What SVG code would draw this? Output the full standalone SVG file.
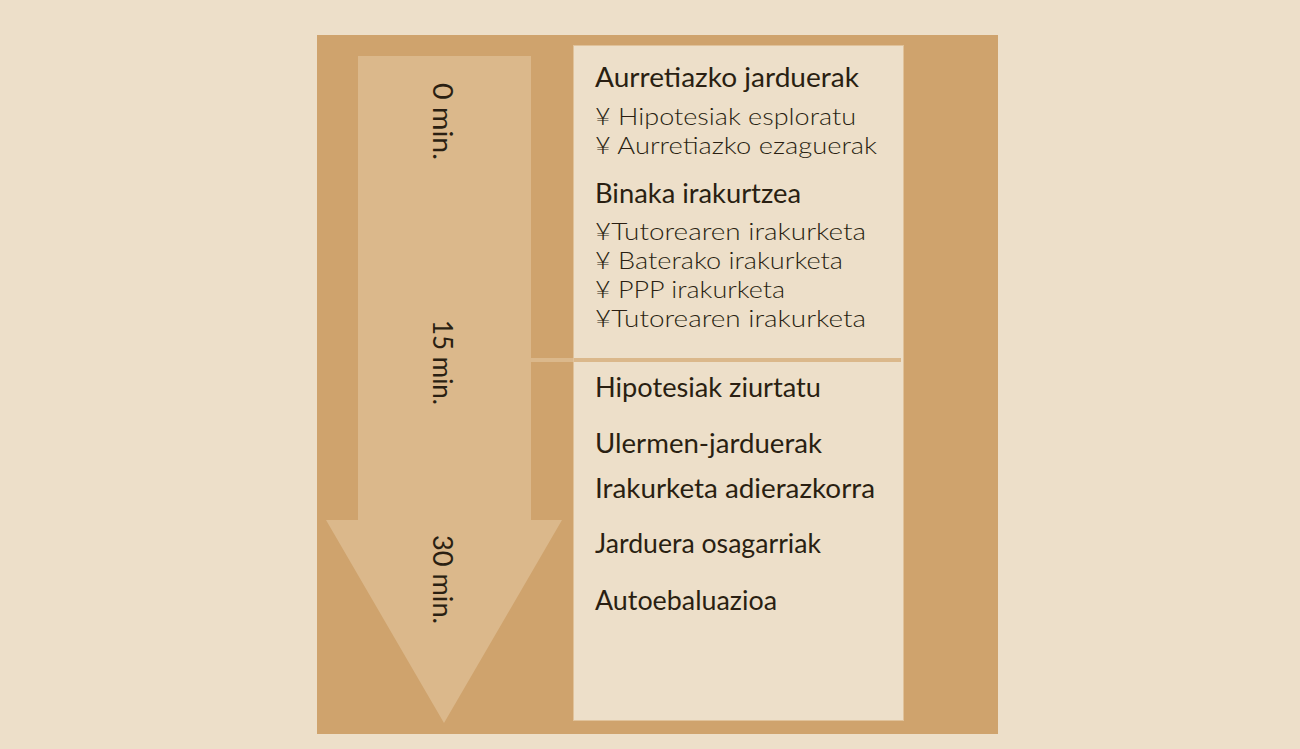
<svg xmlns="http://www.w3.org/2000/svg" width="1300" height="749" viewBox="0 0 1300 749">
<style>
  .t { font-family: Lato, "Open Sans", "Liberation Sans", sans-serif; font-size: 26px; fill: #2a1f12; }
  .h { font-weight: 400; }
  .b { font-weight: 300; font-size: 24px; }
  .v { font-family: Lato, "Open Sans", "Liberation Sans", sans-serif; font-size: 26px; fill: #2a1f12; font-weight: 400; }
</style>
<rect x="0" y="0" width="1300" height="749" fill="#eddfc9"/>
<rect id="frame" x="317" y="35" width="681" height="699" fill="#cfa36d"/>
<g id="arrow">
  <polygon points="358,56 531,56 531,520 562,520 444,723 326,520 358,520" fill="#dbb88b"/>
</g>
<g id="connectors">
  <rect x="530" y="358" width="371" height="4" fill="#dbb88b"/>
</g>
<g id="panel">
  <rect x="573.5" y="45.5" width="330" height="675" fill="#eddfc9" stroke="#e0c29a" stroke-width="1"/>
  <rect x="574" y="358" width="327" height="4" fill="#dbb88b"/>
</g>
<g id="time-labels">
  <text class="v" transform="translate(433,83) rotate(90)" textLength="77" lengthAdjust="spacingAndGlyphs">0 min.</text>
  <text class="v" transform="translate(433,320) rotate(90)" textLength="85" lengthAdjust="spacingAndGlyphs">15 min.</text>
  <text class="v" transform="translate(433,535) rotate(90)" textLength="89" lengthAdjust="spacingAndGlyphs">30 min.</text>
</g>
<g id="section-1">
  <text class="t h" x="595" y="87" textLength="264" lengthAdjust="spacingAndGlyphs">Aurretiazko jarduerak</text>
  <text class="t b" x="595" y="125" textLength="261" lengthAdjust="spacingAndGlyphs">¥ Hipotesiak esploratu</text>
  <text class="t b" x="595" y="154" textLength="282" lengthAdjust="spacingAndGlyphs">¥ Aurretiazko ezaguerak</text>
</g>
<g id="section-2">
  <text class="t h" x="595" y="203" textLength="206" lengthAdjust="spacingAndGlyphs">Binaka irakurtzea</text>
  <text class="t b" x="595" y="240" textLength="271" lengthAdjust="spacingAndGlyphs">¥Tutorearen irakurketa</text>
  <text class="t b" x="595" y="269" textLength="248" lengthAdjust="spacingAndGlyphs">¥ Baterako irakurketa</text>
  <text class="t b" x="595" y="298" textLength="190" lengthAdjust="spacingAndGlyphs">¥ PPP irakurketa</text>
  <text class="t b" x="595" y="327" textLength="271" lengthAdjust="spacingAndGlyphs">¥Tutorearen irakurketa</text>
</g>
<g id="section-3">
  <text class="t h" x="595" y="397" textLength="226" lengthAdjust="spacingAndGlyphs">Hipotesiak ziurtatu</text>
  <text class="t h" x="595" y="453" textLength="227" lengthAdjust="spacingAndGlyphs">Ulermen-jarduerak</text>
  <text class="t h" x="595" y="498" textLength="280" lengthAdjust="spacingAndGlyphs">Irakurketa adierazkorra</text>
  <text class="t h" x="595" y="553" textLength="226" lengthAdjust="spacingAndGlyphs">Jarduera osagarriak</text>
  <text class="t h" x="595" y="610" textLength="182" lengthAdjust="spacingAndGlyphs">Autoebaluazioa</text>
</g>
</svg>
